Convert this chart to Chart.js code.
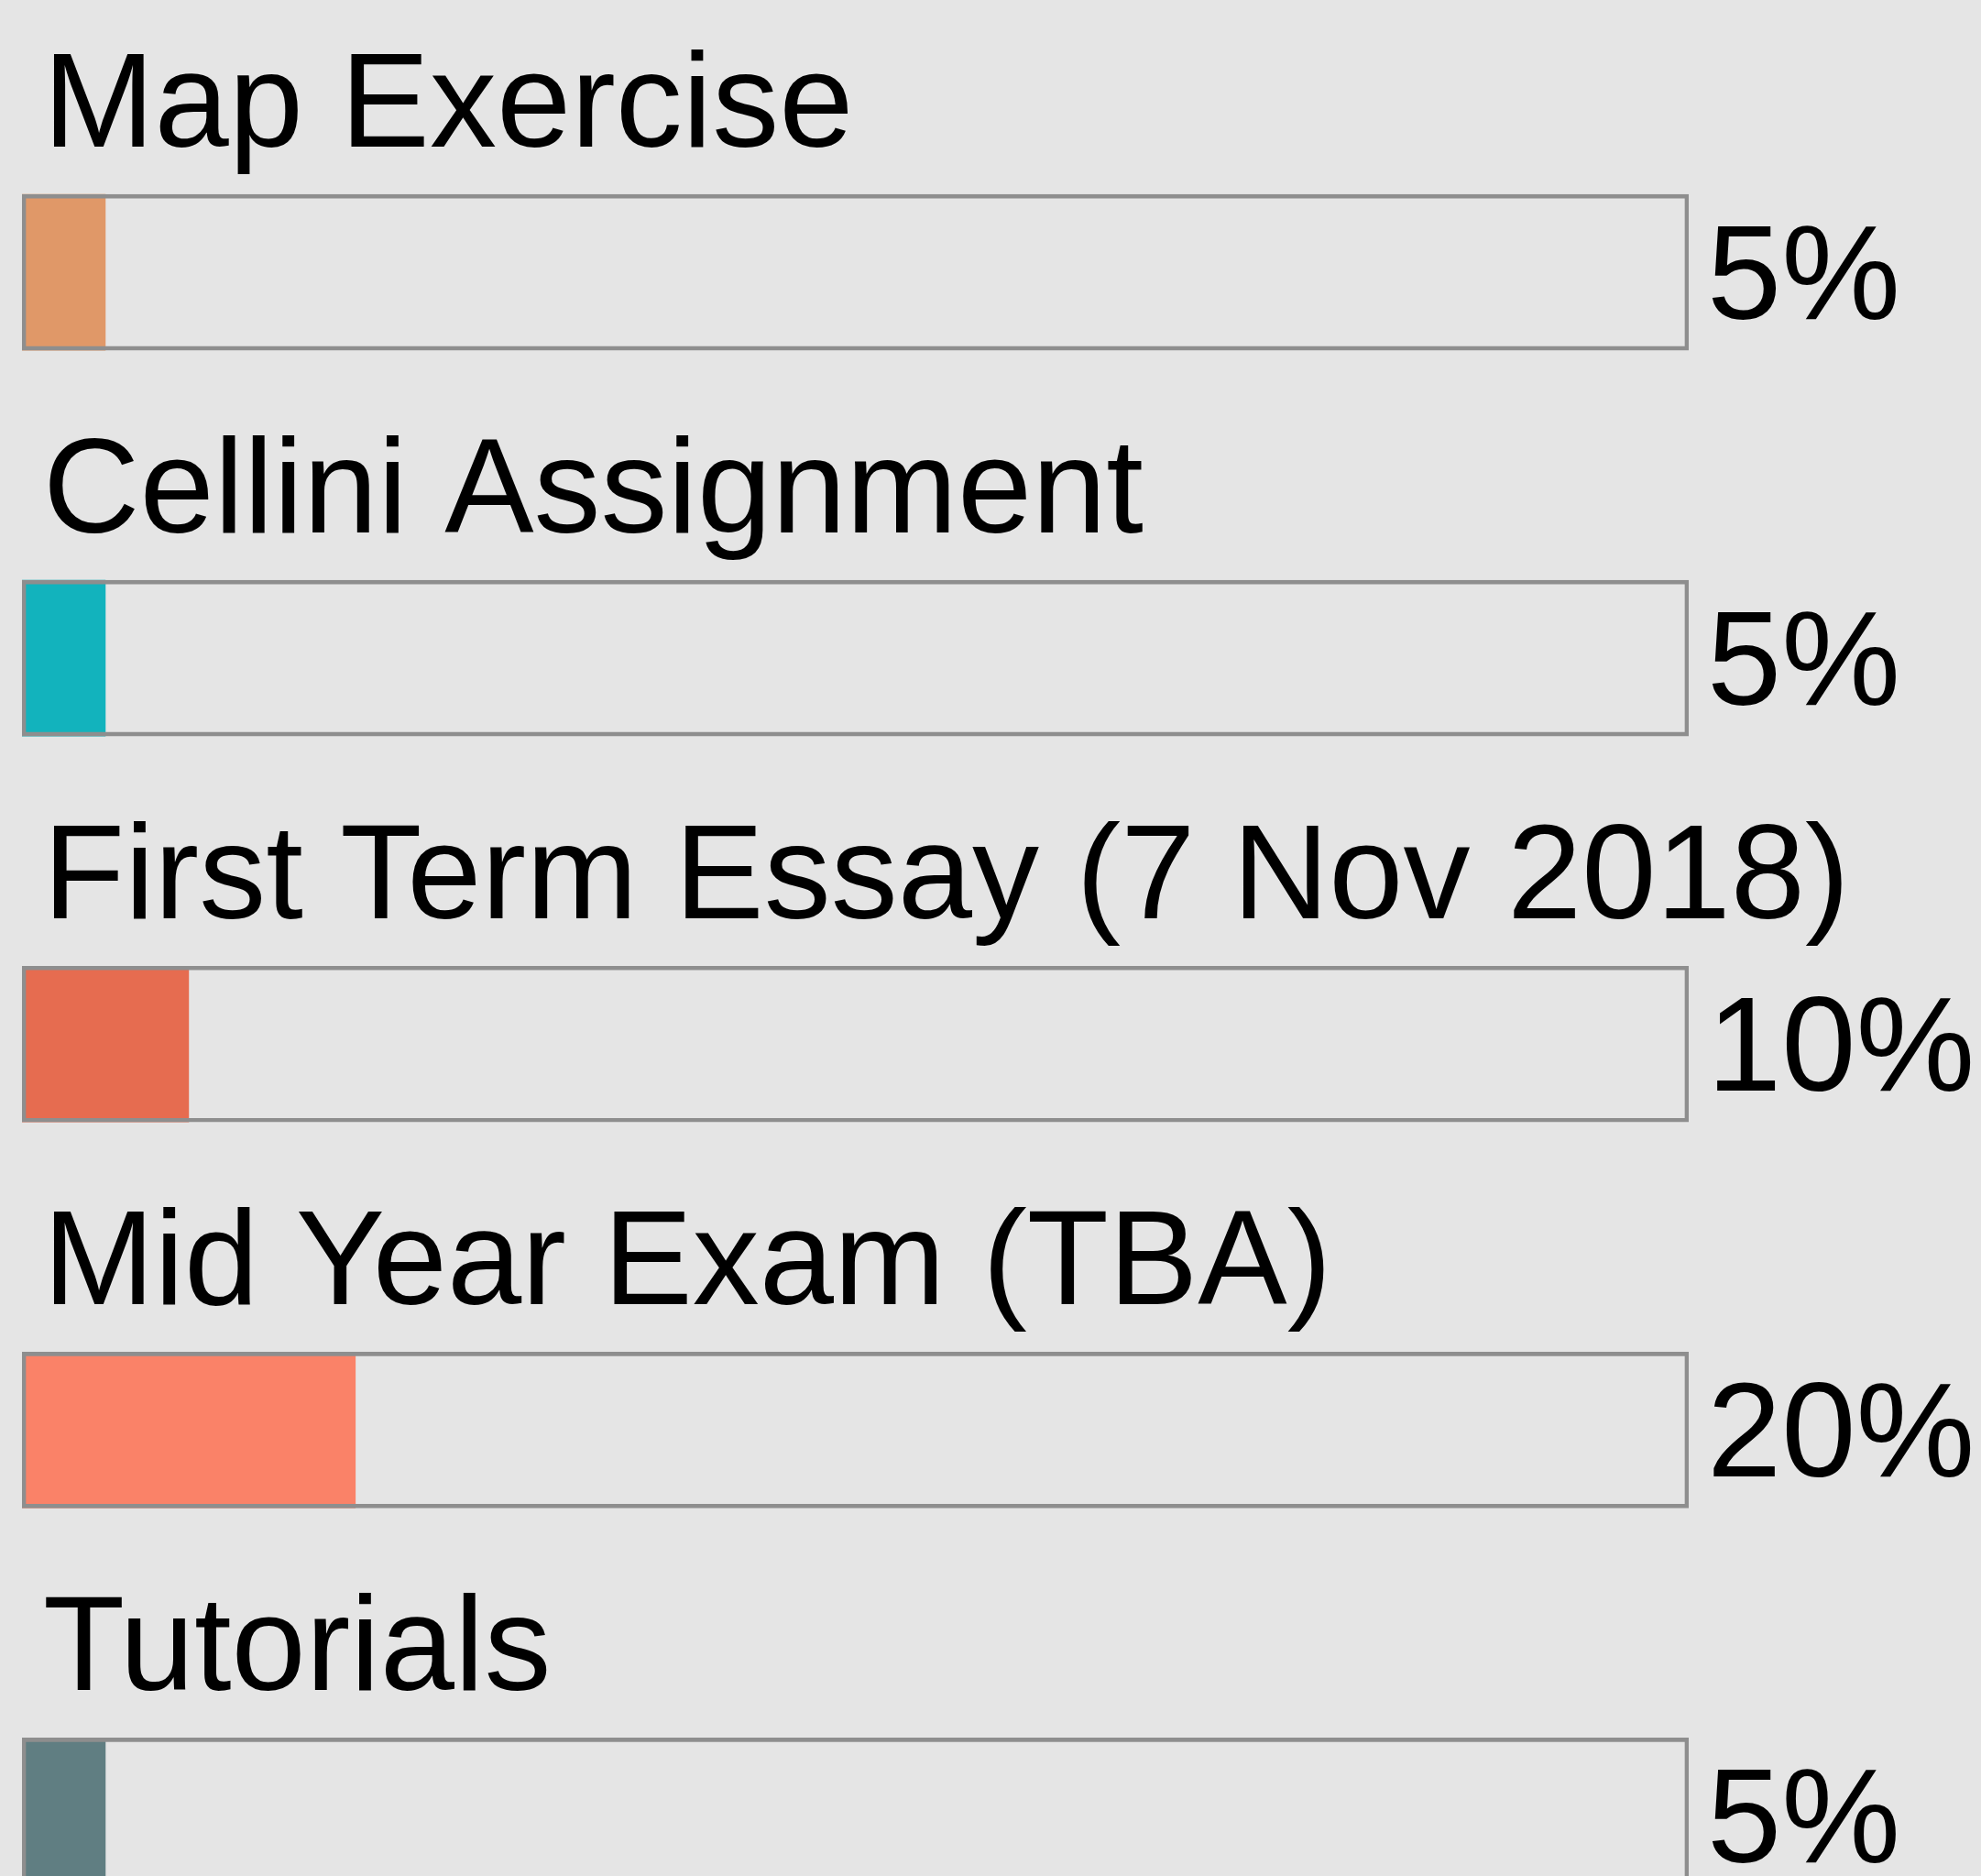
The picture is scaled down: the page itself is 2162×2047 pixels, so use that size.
<!DOCTYPE html>
<html>
<head>
<meta charset="utf-8">
<script src="https://cdn.jsdelivr.net/npm/chart.js@4/dist/chart.umd.min.js"></script>
<style>
  html, body { margin: 0; padding: 0; background: #e5e5e5; overflow: hidden; }
  canvas { display: block; }
</style>
</head>
<body>
<canvas id="chart" width="2162" height="2192"></canvas>
<script>
// assessment weights
const categories = [
    'Map Exercise',
    'Cellini Assignment',
    'First Term Essay (7 Nov 2018)',
    'Mid Year Exam (TBA)',
    'Tutorials'
];
const weights = [5, 5, 10, 20, 5];
const fillColors = ['#e09868', '#12b3bd', '#e66c50', '#fa8268', '#607e82'];
const trackMax = 100;

const FONT = '146px "Liberation Sans", Arial, sans-serif';

// 라벨 그리기 (category title above, percent at right)
const labelPlugin = {
    id: 'barLabels',
    afterDatasetsDraw(chart) {
        const { ctx, chartArea, scales } = chart;
        ctx.save();
        ctx.fillStyle = '#000';
        ctx.font = FONT;
        ctx.textBaseline = 'alphabetic';
        ctx.textAlign = 'left';
        categories.forEach((name, i) => {
            const y = scales.y.getPixelForValue(i);
            ctx.fillText(name, chartArea.left + 23, y - 137);
            ctx.fillText(weights[i] + '%', chartArea.right + 20, y + 51);
        });
        ctx.restore();
    }
};

new Chart(document.getElementById('chart'), {
    type: 'bar',
    data: {
        labels: categories,
        datasets: [
            {
                label: 'track',
                data: categories.map(() => trackMax),
                backgroundColor: 'rgba(0,0,0,0)',
                borderColor: '#8e8e8e',
                borderWidth: 4,
                borderSkipped: false,
                barThickness: 170,
                grouped: false
            },
            {
                label: 'weight',
                data: weights,
                backgroundColor: fillColors,
                borderWidth: 0,
                barThickness: 170,
                grouped: false
            }
        ]
    },
    options: {
        indexAxis: 'y',
        responsive: false,
        animation: false,
        layout: {
            padding: { top: 86.5, bottom: 0, left: 24, right: 319 }
        },
        plugins: {
            legend: { display: false },
            tooltip: { enabled: false }
        },
        scales: {
            x: {
                display: false,
                min: 0,
                max: trackMax
            },
            y: {
                display: false,
                offset: true
            }
        }
    },
    plugins: [labelPlugin]
});
</script>
</body>
</html>
